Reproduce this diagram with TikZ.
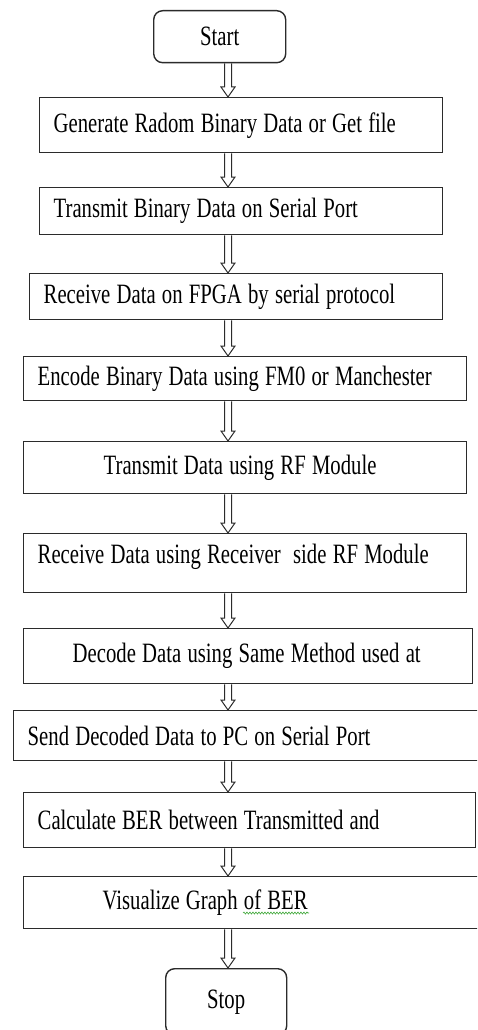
\documentclass[tikz,border=0pt]{standalone}
\usepackage{fontspec}
\setmainfont{Liberation Serif}[FakeStretch=0.74,WordSpace=1.2]
\usepackage{tikz}
\usetikzlibrary{calc,positioning,decorations.pathmorphing}
\definecolor{boxline}{HTML}{2B2B2B}
\definecolor{spellgreen}{HTML}{3BA635}

\begin{document}
\begin{tikzpicture}[x=1pt,y=-1pt,
  stepbox/.style={draw=boxline,line width=1.4pt,rectangle,anchor=north west,align=left,
    inner xsep=14pt,font=\fontsize{28}{32}\selectfont,
    execute at begin node={\spaceskip=0pt\xspaceskip=0pt\hyphenpenalty=10000}},
  endbox/.style={draw=boxline,line width=1.4pt,rounded corners=9pt,anchor=north west,
    font=\fontsize{28}{32}\selectfont},
  flowarrow/.style={draw=boxline,line width=1pt,line join=miter,to path={
    ($(\tikztostart)+(-3.5,0)$) -- ($(\tikztotarget)+(-3.5,-10)$) -- ++(-3.5,0) -- (\tikztotarget)
    -- ($(\tikztotarget)+(7,-10)$) -- ++(-3.5,0) -- ($(\tikztostart)+(3.5,0)$)}},
  spellline/.style={spellgreen,line width=0.6pt,decorate,decoration={snake,amplitude=1pt,segment length=3pt}}]
  \useasboundingbox (0,0) rectangle (477,1030);
  \clip (0,0) rectangle (477,1030);
  \coordinate (ax) at (228,0);

  \node[endbox,minimum width=132pt,minimum height=52pt] (start) at (153,10) {Start};
  \node[stepbox,text width=375pt,minimum height=55pt] (gen) at (39,97) {Generate Radom Binary Data or Get file};
  \node[stepbox,text width=375pt,minimum height=47pt] (tx) at (39,187) {Transmit Binary Data on Serial Port};
  \node[stepbox,text width=385pt,minimum height=46pt] (rx) at (29,273) {Receive Data on FPGA by serial protocol};
  \node[stepbox,text width=415pt,minimum height=44pt] (enc) at (23,356) {Encode Binary Data using FM0 or Manchester};
  \node[stepbox,inner xsep=80pt,text width=283pt,minimum height=52pt] (rf) at (23,441) {Transmit Data using RF Module};
  \node[stepbox,text width=415pt,minimum height=59pt,text depth=18pt] (rxrf) at (23,533) {Receive Data using Receiver\ \ side RF Module};
  \node[stepbox,inner xsep=49pt,text width=351pt,minimum height=55pt] (dec) at (23,628) {Decode Data using Same Method used at};
  \node[stepbox,text width=462pt,minimum height=50pt] (send) at (13,710) {Send Decoded Data to PC on Serial Port};
  \node[stepbox,text width=424pt,minimum height=55pt] (ber) at (23,792) {Calculate BER between Transmitted and};
  \node[stepbox,inner xsep=79pt,text width=322pt,minimum height=52pt] (viz) at (23,876) {Visualize Graph of BER};
  \node[endbox,minimum width=121pt,minimum height=66pt] (stop) at (165,968) {Stop};

  \foreach \a/\b in {start/gen,gen/tx,tx/rx,rx/enc,enc/rf,rf/rxrf,rxrf/dec,dec/send,send/ber,ber/viz,viz/stop}
    \draw[flowarrow] (\a.south -| ax) to (\b.north -| ax);

  % spell-check underline
  \draw[spellline] (243,913) -- (309,913);
\end{tikzpicture}
\end{document}
